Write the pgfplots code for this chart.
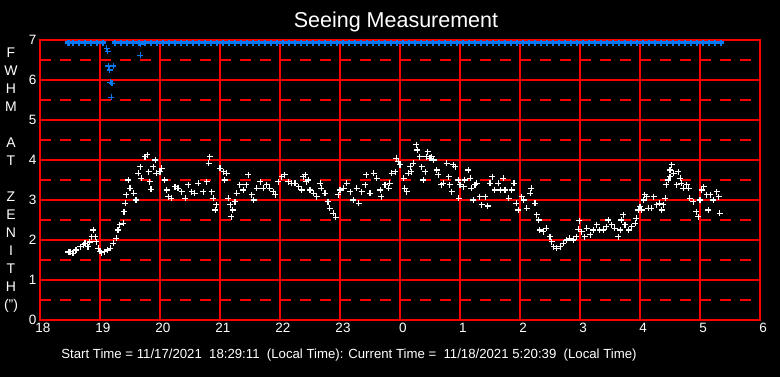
\documentclass[border=0pt]{standalone}
\usepackage{pgfplots}
\pgfplotsset{compat=1.18}
\usepackage{fontspec}
\setmainfont{Liberation Sans}
\usetikzlibrary{backgrounds}
\definecolor{gridred}{RGB}{255,0,0}
\definecolor{seeblue}{RGB}{10,120,240}
\begin{document}
\begin{tikzpicture}
\begin{axis}[
  at={(0,0)}, anchor=south west, scale only axis,
  width=720pt, height=280pt,
  xmin=18, xmax=30, ymin=0, ymax=7,
  xtick={18,...,30}, xticklabels={18,19,20,21,22,23,0,1,2,3,4,5,6},
  ytick={0,...,7},
  minor ytick={0.5,1.5,2.5,3.5,4.5,5.5,6.5},
  xmajorgrids, ymajorgrids, yminorgrids,
  major grid style={gridred, line width=1.3pt, solid},
  minor grid style={gridred, line width=1.3pt, dash pattern=on 11pt off 9pt},
  axis line style={gridred, line width=1.3pt},
  major tick length=0pt, minor tick length=0pt,
  ticklabel style={white, font=\fontsize{13.5}{14}\selectfont},
  xticklabel style={xshift=3pt},
  /pgf/number format/assume math mode=true,
]
\addplot[only marks, mark=+, mark size=3pt, white, line width=1.25pt] coordinates {
(18.47,1.70)(18.5,1.71)(18.55,1.67)(18.6,1.75)(18.67,1.83)(18.72,1.88)(18.75,1.92)(18.8,1.83)(18.83,1.95)(18.86,2.08)(18.89,2.25)(18.92,2.08)(18.94,1.96)(18.97,1.79)(19.0,1.72)(19.03,1.68)(19.08,1.71)(19.12,1.75)(19.17,1.79)(19.22,1.92)(19.27,2.04)(19.3,2.25)(19.33,2.38)(19.39,2.42)(19.4,2.71)(19.42,2.92)(19.44,3.13)(19.47,3.5)(19.5,3.29)(19.56,3.17)(19.6,3.0)(19.64,3.67)(19.67,3.83)(19.69,3.54)(19.75,4.08)(19.79,4.13)(19.81,3.71)(19.83,3.46)(19.85,3.27)(19.89,3.83)(19.92,4.0)(19.94,3.67)(20.0,3.71)(20.03,3.79)(20.08,3.5)(20.11,3.25)(20.14,3.08)(20.19,3.04)(20.25,3.33)(20.3,3.29)(20.36,3.21)(20.42,3.04)(20.47,3.38)(20.53,3.21)(20.58,3.17)(20.64,3.42)(20.72,3.21)(20.78,3.46)(20.81,3.92)(20.83,4.08)(20.86,3.21)(20.89,3.04)(20.92,2.75)(20.94,2.88)(21.0,3.79)(21.06,3.71)(21.08,3.5)(21.11,3.67)(21.14,3.04)(21.17,2.88)(21.19,2.58)(21.21,2.75)(21.25,2.96)(21.28,3.17)(21.33,3.38)(21.39,3.25)(21.44,3.38)(21.47,3.63)(21.53,3.13)(21.56,3.0)(21.61,3.29)(21.67,3.46)(21.72,3.29)(21.78,3.38)(21.83,3.29)(21.89,3.21)(21.92,3.13)(21.97,3.46)(22.03,3.58)(22.08,3.63)(22.14,3.46)(22.19,3.42)(22.25,3.42)(22.31,3.33)(22.36,3.25)(22.39,3.58)(22.42,3.63)(22.44,3.46)(22.47,3.5)(22.5,3.25)(22.56,3.17)(22.61,3.08)(22.67,3.42)(22.69,3.29)(22.75,3.17)(22.8,2.96)(22.83,2.79)(22.89,2.67)(22.93,2.57)(22.97,3.13)(23.0,3.25)(23.06,3.29)(23.11,3.42)(23.17,3.21)(23.22,3.0)(23.28,3.29)(23.31,2.92)(23.36,3.21)(23.42,3.38)(23.44,3.63)(23.5,3.17)(23.56,3.67)(23.61,3.54)(23.67,3.25)(23.69,3.08)(23.75,3.38)(23.81,3.29)(23.83,3.42)(23.86,3.67)(23.92,3.71)(23.94,4.04)(23.97,3.96)(24.0,3.88)(24.06,3.54)(24.08,3.29)(24.11,3.21)(24.14,3.67)(24.17,3.83)(24.19,3.71)(24.22,3.92)(24.27,4.38)(24.29,4.25)(24.33,4.08)(24.36,3.83)(24.39,3.5)(24.42,3.71)(24.44,4.08)(24.46,4.21)(24.5,4.04)(24.53,4.08)(24.56,4.0)(24.61,3.75)(24.64,3.63)(24.69,3.38)(24.72,3.42)(24.78,3.92)(24.81,3.58)(24.83,3.38)(24.86,3.21)(24.89,3.88)(24.92,3.83)(24.97,3.5)(24.98,3.04)(25.0,3.38)(25.06,3.33)(25.08,3.5)(25.14,3.75)(25.17,3.54)(25.19,3.29)(25.22,3.0)(25.25,3.38)(25.28,3.42)(25.33,3.08)(25.36,2.88)(25.42,3.08)(25.46,2.85)(25.5,3.42)(25.54,3.58)(25.58,3.25)(25.64,3.42)(25.67,3.25)(25.72,3.54)(25.75,3.25)(25.81,3.04)(25.86,3.25)(25.9,3.42)(25.94,2.92)(25.97,2.75)(26.03,3.08)(26.06,3.0)(26.11,2.79)(26.17,3.17)(26.19,3.29)(26.25,2.92)(26.28,2.63)(26.31,2.5)(26.33,2.25)(26.39,2.21)(26.44,2.29)(26.5,2.08)(26.53,1.96)(26.56,1.83)(26.61,1.79)(26.67,1.83)(26.72,1.92)(26.78,2.0)(26.83,2.04)(26.89,2.0)(26.94,2.08)(26.97,2.27)(26.99,2.48)(27.03,2.21)(27.08,2.08)(27.11,2.29)(27.17,2.13)(27.22,2.25)(27.28,2.38)(27.33,2.25)(27.39,2.25)(27.44,2.33)(27.47,2.5)(27.53,2.38)(27.58,2.29)(27.64,2.08)(27.67,2.25)(27.69,2.5)(27.72,2.63)(27.75,2.38)(27.81,2.25)(27.86,2.33)(27.92,2.42)(27.94,2.54)(27.97,2.75)(28.0,2.83)(28.03,2.75)(28.06,3.0)(28.08,3.13)(28.11,3.08)(28.14,2.79)(28.19,2.79)(28.23,3.08)(28.28,2.88)(28.33,2.92)(28.36,2.75)(28.39,2.88)(28.42,3.04)(28.44,3.38)(28.47,3.5)(28.5,3.58)(28.5,3.75)(28.53,3.88)(28.56,3.67)(28.61,3.38)(28.64,3.71)(28.67,3.54)(28.69,3.42)(28.72,3.29)(28.78,3.38)(28.81,3.29)(28.83,3.04)(28.89,2.96)(28.94,2.71)(28.97,2.58)(29.0,3.0)(29.03,3.25)(29.06,3.33)(29.11,3.13)(29.14,2.75)(29.17,3.13)(29.22,3.0)(29.28,3.21)(29.31,3.08)(29.33,2.67)
};
% band of clipped values at the top
\addplot[only marks, mark=+, mark size=3pt, seeblue, line width=2.6pt] coordinates {
(18.47,6.93)(18.55,6.93)(18.65,6.93)(18.75,6.93)(18.85,6.93)(18.95,6.93)(19.05,6.93)
(19.25,6.93)(19.35,6.93)(19.45,6.93)(19.55,6.93)(19.65,6.93)(19.75,6.93)(19.85,6.93)(19.95,6.93)
(20.05,6.93)(20.15,6.93)(20.25,6.93)(20.35,6.93)(20.45,6.93)(20.55,6.93)(20.65,6.93)(20.75,6.93)(20.85,6.93)(20.95,6.93)
(21.05,6.93)(21.15,6.93)(21.25,6.93)(21.35,6.93)(21.45,6.93)(21.55,6.93)(21.65,6.93)(21.75,6.93)(21.85,6.93)(21.95,6.93)
(22.05,6.93)(22.15,6.93)(22.25,6.93)(22.35,6.93)(22.45,6.93)(22.55,6.93)(22.65,6.93)(22.75,6.93)(22.85,6.93)(22.95,6.93)
(23.05,6.93)(23.15,6.93)(23.25,6.93)(23.35,6.93)(23.45,6.93)(23.55,6.93)(23.65,6.93)(23.75,6.93)(23.85,6.93)(23.95,6.93)
(24.05,6.93)(24.15,6.93)(24.25,6.93)(24.35,6.93)(24.45,6.93)(24.55,6.93)(24.65,6.93)(24.75,6.93)(24.85,6.93)(24.95,6.93)
(25.05,6.93)(25.15,6.93)(25.25,6.93)(25.35,6.93)(25.45,6.93)(25.55,6.93)(25.65,6.93)(25.75,6.93)(25.85,6.93)(25.95,6.93)
(26.05,6.93)(26.15,6.93)(26.25,6.93)(26.35,6.93)(26.45,6.93)(26.55,6.93)(26.65,6.93)(26.75,6.93)(26.85,6.93)(26.95,6.93)
(27.05,6.93)(27.15,6.93)(27.25,6.93)(27.35,6.93)(27.45,6.93)(27.55,6.93)(27.65,6.93)(27.75,6.93)(27.85,6.93)(27.95,6.93)
(28.05,6.93)(28.15,6.93)(28.25,6.93)(28.35,6.93)(28.45,6.93)(28.55,6.93)(28.65,6.93)(28.75,6.93)(28.85,6.93)(28.95,6.93)
(29.05,6.93)(29.15,6.93)(29.25,6.93)(29.35,6.93)
};
\addplot[only marks, mark=+, mark size=3pt, seeblue, line width=1.25pt] coordinates {
(19.11,6.79)(19.13,6.72)(19.14,6.35)(19.22,6.35)(19.16,6.25)(19.17,5.94)(19.2,5.92)(19.19,5.57)(19.67,6.62)(19.68,6.9)
};
\end{axis}
\node[white, font=\fontsize{21.5}{22}\selectfont] at (356pt,298pt) {Seeing Measurement};
\node[white, font=\fontsize{13.2}{14}\selectfont] at (309pt,-35pt) {Start Time = 11/17/2021 \ 18:29:11 \ (Local Time): Current Time = \ 11/18/2021 5:20:39 \ (Local Time)};
\node[white, align=center, font=\fontsize{14}{18}\selectfont] at (-29pt,140pt) {F\\W\\H\\M\\[18pt]A\\T\\[18pt]Z\\E\\N\\I\\T\\H\\(")};
\begin{scope}[on background layer]
\fill[black] (-40pt,-57pt) rectangle (740pt,320pt);
\end{scope}
\end{tikzpicture}
\end{document}
